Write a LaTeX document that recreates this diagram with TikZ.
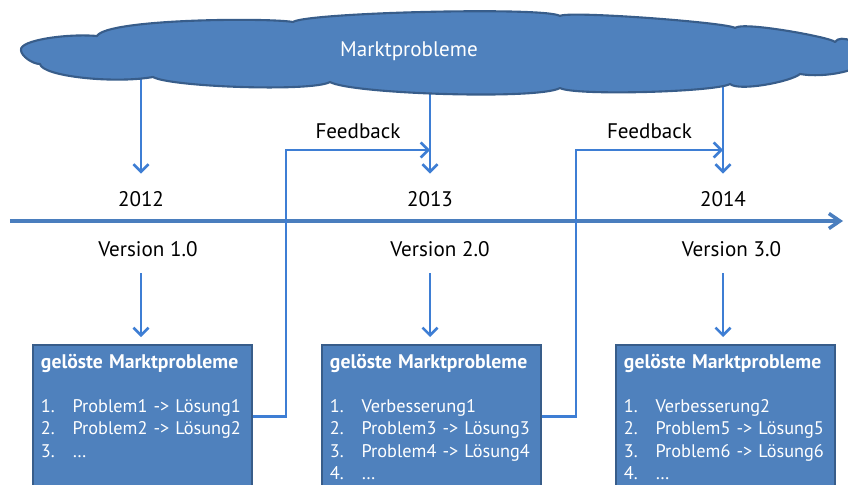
\documentclass[tikz,border=0pt]{standalone}
\usepackage{fontspec}
\setmainfont{PT Sans}
\usetikzlibrary{arrows.meta,backgrounds}
\definecolor{boxfill}{RGB}{79,129,189}
\definecolor{boxline}{RGB}{56,93,138}
\definecolor{linkblue}{RGB}{62,126,212}
\definecolor{axisblue}{RGB}{74,126,190}
\newcommand{\punkt}[2]{\makebox[18pt][l]{#1}#2}
\newcommand{\kopf}{{\fontsize{11.2}{12.7}\selectfont\bfseries gelöste Marktprobleme}}

\begin{document}
\begin{tikzpicture}[line width=1.5pt,>={Straight Barb[length=1.5mm,width=3mm]},
  lbl/.style={font=\fontsize{12}{14}\selectfont,inner sep=0pt},
  link/.style={draw=linkblue,line width=1.5pt},
  loesbox/.style={draw=boxline,fill=boxfill,line width=1.2pt,text=white,anchor=north west,
    align=left,text width=4.06cm,inner xsep=4.5pt,inner ysep=5pt,text depth=3cm,
    font=\fontsize{10.4}{12.7}\selectfont}]
  \useasboundingbox (0,0) rectangle (16.96,-9.7);
  \clip (0,0) rectangle (16.96,-9.7);
  % wolke
  \fill[draw=boxline,fill=boxfill,line width=1.2pt,line join=round]
    (0.42,-1.00) to[out=100,in=175,out distance=0.2cm,in distance=0.6cm] (1.94,-0.72)
    to[out=60,in=170,out distance=0.4cm,in distance=0.5cm] (5.86,-0.44)
    to[out=35,in=145,distance=0.33cm] (11.2,-0.32)
    to[out=40,in=140,distance=0.17cm] (14.7,-0.56)
    to[out=45,in=120,out distance=0.2cm,in distance=0.1cm] (16.7,-0.84)
    to[out=60,in=90,out distance=0.2cm,in distance=0.3cm] (17.3,-1.16)
    to[out=-90,in=-10,out distance=0.25cm,in distance=0.5cm] (16.0,-1.48)
    to[out=-140,in=-40,distance=0.24cm] (14.6,-1.68)
    to[out=-150,in=-30,distance=0.32cm] (11.2,-1.76)
    to[out=-150,in=-30,distance=0.48cm] (6.6,-1.64)
    to[out=-150,in=-30,distance=0.4cm] (3.06,-1.54)
    to[out=-170,in=-80,out distance=0.8cm,in distance=0.25cm] (0.8,-1.28)
    to[out=180,in=-90,out distance=0.15cm,in distance=0.12cm] (0.42,-1.00) -- cycle;
  \node[lbl,text=white,anchor=base] (markt) at (8.18,-1.14) {Marktprobleme};
  % jahre
  \node[lbl] (y12) at (2.82,-3.99) {2012};
  \node[lbl] (y13) at (8.6,-3.99) {2013};
  \node[lbl] (y14) at (14.46,-3.99) {2014};
  \begin{pgfonlayer}{background}
    \draw[link,->,shorten >=0.34cm] (markt.center -| y12) -- (y12.north);
    \draw[link,->,shorten >=0.34cm] (markt.center -| y13) -- (y13.north);
    \draw[link,->,shorten >=0.34cm] (markt.center -| y14) -- (y14.north);
  \end{pgfonlayer}
  % zeitachse
  \coordinate (ta) at (0.2,-4.42);
  \coordinate (tb) at (16.86,-4.42);
  \draw[axisblue,line width=2pt,-{Straight Barb[length=2.2mm,width=3mm]}] (ta) -- (tb);
  % versionen
  \node[lbl] (v1) at (2.96,-4.99) {Version 1.0};
  \node[lbl] (v2) at (8.8,-4.99) {Version 2.0};
  \node[lbl] (v3) at (14.63,-4.99) {Version 3.0};
  % kaesten
  \node[loesbox] (b1) at (0.64,-6.88) {\kopf\\[12.7pt]
    \punkt{1.}{Problem1 -> Lösung1}\\
    \punkt{2.}{Problem2 -> Lösung2}\\
    \punkt{3.}{…}};
  \node[loesbox] (b2) at (6.42,-6.88) {\kopf\\[12.7pt]
    \punkt{1.}{Verbesserung1}\\
    \punkt{2.}{Problem3 -> Lösung3}\\
    \punkt{3.}{Problem4 -> Lösung4}\\
    \punkt{4.}{…}};
  \node[loesbox] (b3) at (12.30,-6.88) {\kopf\\[12.7pt]
    \punkt{1.}{Verbesserung2}\\
    \punkt{2.}{Problem5 -> Lösung5}\\
    \punkt{3.}{Problem6 -> Lösung6}\\
    \punkt{4.}{…}};
  \draw[link,->,shorten <=0.32cm,shorten >=0.14cm] (v1.south -| y12) -- (b1.north -| y12);
  \draw[link,->,shorten <=0.32cm,shorten >=0.14cm] (v2.south -| y13) -- (b2.north -| y13);
  \draw[link,->,shorten <=0.32cm,shorten >=0.14cm] (v3.south -| y14) -- (b3.north -| y14);
  % feedback
  \coordinate (fb1) at (5.72,-3.0);
  \coordinate (fb2) at (11.52,-3.0);
  \draw[link,->] ([yshift=-1.45cm]b1.north east) -| (fb1) -- (fb1 -| y13)
    node[lbl,midway,above=5.5pt] {Feedback};
  \draw[link,->] ([yshift=-1.45cm]b2.north east) -| (fb2) -- (fb2 -| y14)
    node[lbl,midway,above=5.5pt] {Feedback};
\end{tikzpicture}
\end{document}
